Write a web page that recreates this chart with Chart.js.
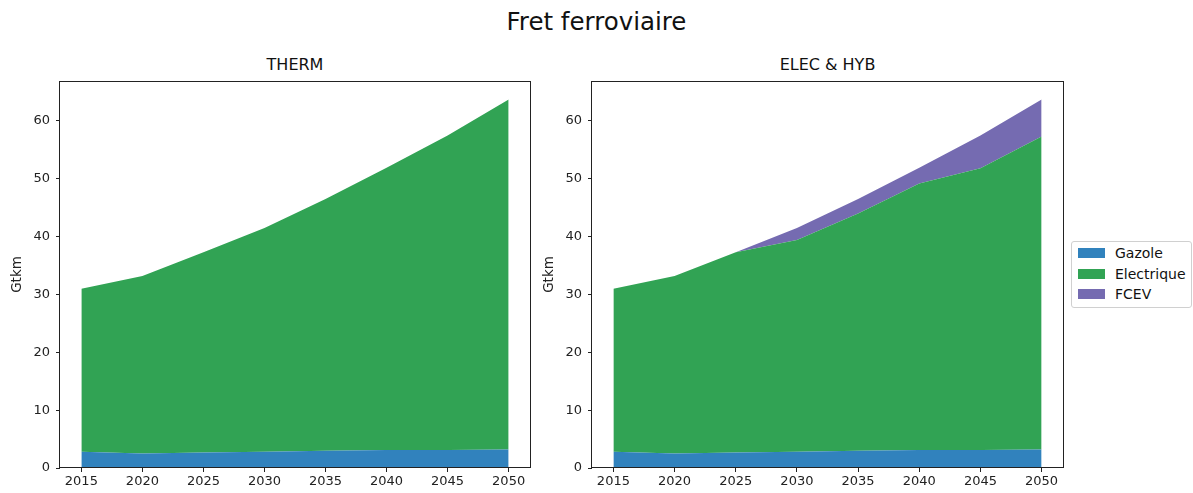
<!DOCTYPE html>
<html>
<head>
<meta charset="utf-8">
<script src="https://cdn.jsdelivr.net/npm/chart.js@4.4.1/dist/chart.umd.min.js"></script>
<style>
  html, body { margin: 0; padding: 0; background: #fff; }
  body { width: 1193px; height: 493px; position: relative; overflow: hidden; font-family: "DejaVu Sans", sans-serif; color: #000; }
  #wrapL { position: absolute; left: 0; top: 0; width: 540px; height: 493px; }
  #wrapR { position: absolute; left: 535px; top: 0; width: 658px; height: 493px; }
  .suptitle { position: absolute; left: 0; width: 1193px; top: 7px; text-align: center; font-size: 24.5px; line-height: 30px; color: #111; }
  .subtitle { position: absolute; top: 56px; font-size: 16px; line-height: 18px; text-align: center; color: #111; }
  #legend { position: absolute; left: 1071px; top: 241px; width: 121px; height: 67px; border: 1px solid #d0d0d0; border-radius: 3px; box-sizing: border-box; background: #fff; }
  .item { position: absolute; left: 6px; height: 16px; font-size: 14px; line-height: 16px; white-space: nowrap; color: #111; }
  .sw { display: inline-block; width: 27px; height: 10px; vertical-align: middle; margin-right: 10px; margin-top: -2px; }
</style>
</head>
<body>
<div class="suptitle">Fret ferroviaire</div>
<div class="subtitle" style="left:60px;width:470px;">THERM</div>
<div class="subtitle" style="left:592px;width:471px;">ELEC &amp; HYB</div>
<div id="wrapL"><canvas id="cL"></canvas></div>
<div id="wrapR"><canvas id="cR"></canvas></div>
<div id="legend"></div>
<script>
// ---- data ----
const years = [2015, 2020, 2025, 2030, 2035, 2040, 2045, 2050];
const gazoleTherm = [2.8, 2.5, 2.7, 2.8, 3.0, 3.1, 3.1, 3.2];
const electriqueTherm = [28.2, 30.7, 34.6, 38.7, 43.5, 48.8, 54.4, 60.5];
const gazoleElec = [2.8, 2.5, 2.7, 2.8, 3.0, 3.1, 3.1, 3.2];
const electriqueElec = [28.2, 30.7, 34.6, 36.6, 41.0, 46.1, 48.7, 54.1];
const fcevElec = [0, 0, 0, 2.1, 2.5, 2.7, 5.7, 6.4];
const seriesNames = ["Gazole", "Electrique", "FCEV"];
const xTicks = [2015, 2020, 2025, 2030, 2035, 2040, 2045, 2050];
const yTicks = [0, 10, 20, 30, 40, 50, 60];
const yLabel = "Gtkm";

const colors = ["#3182bd", "#31a354", "#756bb1"];

function pts(arr) { return years.map((y, i) => ({ x: y, y: arr[i] })); }

function ds(name, arr, idx) {
  return {
    label: name,
    data: pts(arr),
    backgroundColor: colors[idx],
    borderColor: colors[idx],
    borderWidth: 0,
    pointRadius: 0,
    fill: idx === 0 ? 'origin' : '-1',
    tension: 0
  };
}

const framePlugin = {
  id: 'frame',
  afterDraw(chart) {
    const a = chart.chartArea, ctx = chart.ctx;
    ctx.save();
    ctx.strokeStyle = '#222';
    ctx.lineWidth = 1;
    ctx.strokeRect(Math.round(a.left) - 0.5, Math.round(a.top) + 0.5, Math.round(a.right - a.left) + 1, Math.round(a.bottom - a.top) - 1);
    ctx.restore();
  }
};

function makeOptions(yAxisWidth, padRight, titlePad) {
  const tickFont = { family: "DejaVu Sans", size: 13 };
  return {
    responsive: false,
    animation: false,
    maintainAspectRatio: false,
    layout: { padding: { top: 81, right: padRight, left: 0, bottom: 0 } },
    plugins: { legend: { display: false }, title: { display: false }, tooltip: { enabled: false } },
    scales: {
      x: {
        type: 'linear',
        min: 2013.25,
        max: 2051.75,
        afterBuildTicks(s) { s.ticks = xTicks.map(v => ({ value: v })); },
        afterFit(s) { s.height = 25; },
        ticks: { font: tickFont, color: '#222', padding: 2, maxRotation: 0, autoSkip: false, callback: v => String(v) },
        grid: { display: true, drawOnChartArea: false, drawTicks: true, tickLength: 4, color: '#222' },
        border: { display: false }
      },
      y: {
        stacked: true,
        min: 0,
        max: 66.9,
        afterBuildTicks(s) { s.ticks = yTicks.map(v => ({ value: v })); },
        afterFit(s) { s.width = yAxisWidth; },
        ticks: { font: tickFont, color: '#222', padding: 6, callback: v => String(v) },
        grid: { display: true, drawOnChartArea: false, drawTicks: true, tickLength: 4, color: '#222' },
        border: { display: false },
        title: { display: true, text: yLabel, font: { family: "DejaVu Sans", size: 13.5 }, color: '#222', padding: { top: titlePad, bottom: 0 } }
      }
    }
  };
}

const cL = document.getElementById('cL');
cL.width = 540; cL.height = 493;
new Chart(cL, {
  type: 'line',
  data: { datasets: [ds(seriesNames[0], gazoleTherm, 0), ds(seriesNames[1], electriqueTherm, 1)] },
  options: makeOptions(60, 10, 9),
  plugins: [framePlugin]
});

const cR = document.getElementById('cR');
cR.width = 658; cR.height = 493;
new Chart(cR, {
  type: 'line',
  data: { datasets: [ds(seriesNames[0], gazoleElec, 0), ds(seriesNames[1], electriqueElec, 1), ds(seriesNames[2], fcevElec, 2)] },
  options: makeOptions(57, 130, 6),
  plugins: [framePlugin]
});

// legend
const lg = document.getElementById('legend');
seriesNames.forEach((n, i) => {
  const d = document.createElement('div');
  d.className = 'item';
  d.style.top = (3 + i * 20.5) + 'px';
  d.innerHTML = '<span class="sw" style="background:' + colors[i] + '"></span>' + n;
  lg.appendChild(d);
});
</script>
</body>
</html>
